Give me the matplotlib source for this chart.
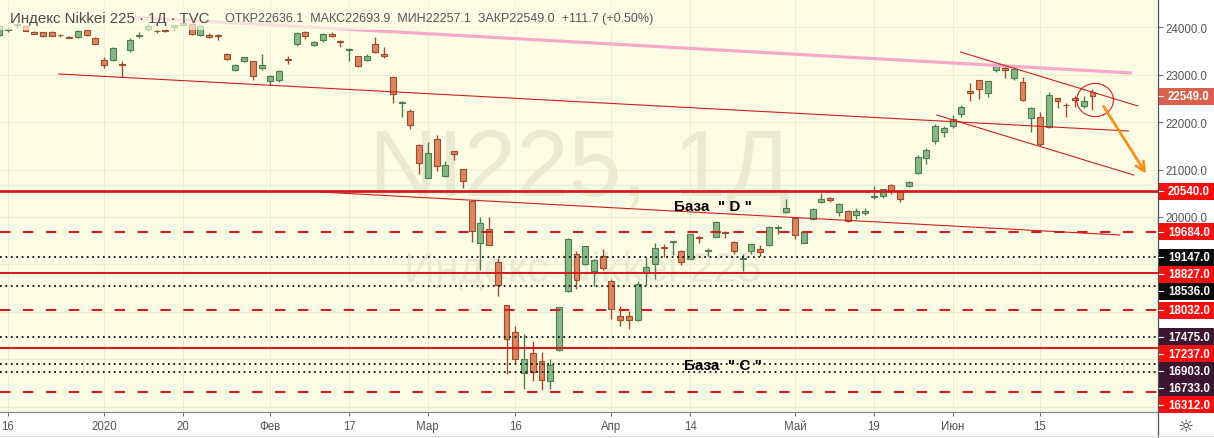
import matplotlib.pyplot as plt
from matplotlib.patches import Rectangle, Ellipse
import numpy as np
import pandas as pd

# Торговые дни Токийской биржи (без праздников)
holidays = ["2019-12-31", "2020-01-01", "2020-01-02", "2020-01-03", "2020-01-13",
            "2020-02-11", "2020-02-24", "2020-03-20", "2020-04-29",
            "2020-05-04", "2020-05-05", "2020-05-06"]
days = pd.bdate_range("2019-12-13", "2020-06-23")
days = days[~days.isin(pd.to_datetime(holidays))]

# OHLC, Nikkei 225, 1Д
opens = [23840, 23950, 24050, 24020, 23910, 23895, 23900, 23835, 23790, 23790, 23955, 23770,
         23320, 23320, 23220, 23530, 23810, 23960, 23920, 23950, 24000, 24060, 24070, 23840, 23840, 23840,
         23440, 23110, 23300, 23290, 23140,
         22860, 22880, 23340, 23640, 23895, 23630, 23740, 23870, 23700, 23520, 23390, 23320, 23660, 23430,
         22950, 22400, 22240, 21510,
         20830, 21640, 20870, 21390, 21010, 20330, 19450, 19750, 19040, 18150, 17570, 16710, 17130, 16970,
         16550, 17200, 18430, 19220, 19010, 18870, 19170,
         18660, 17920, 17920, 17835, 18840, 19010, 19360, 19470, 19290, 19115, 19585, 19290, 19585, 19680,
         19466, 19115, 19290, 19325, 19400, 19761, 20100,
         19979, 19452, 19958, 20324, 20402, 20114, 20121, 20043, 20085, 20416, 20437, 20683, 20542, 20648,
         20929, 21238, 21604, 21801,
         21913, 22173, 22651, 22890, 22609, 23108, 23143, 22926, 22841, 22082, 22117, 21892, 22504, 22363,
         22504, 22349, 22636.1]
highs = [24046, 24001, 24092, 24040, 23925, 23910, 23930, 23860, 23810, 23940, 23965, 23800,
         23365, 23590, 23300, 23770, 23900, 24080, 23950, 23970, 24050, 24115, 24100, 24050, 23880, 23860,
         23460, 23230, 23380, 23300, 23430,
         23000, 23100, 23390, 23900, 23920, 23720, 23880, 23900, 23740, 23560, 23400, 23440, 23800, 23580,
         22950, 22450, 22280, 21530,
         21580, 21720, 21190, 21400, 21020, 20350, 19990, 19990, 19130, 18150, 17700, 17530, 17390, 17150,
         17010, 18100, 19560, 19290, 19390, 19110, 19330,
         18690, 18130, 18020, 18660, 19150, 19450, 19430, 19500, 19300, 19640, 19600, 19350, 19920, 19700,
         19490, 19220, 19430, 19400, 19820, 19830, 20380,
         19990, 19680, 20180, 20500, 20420, 20290, 20150, 20180, 20180, 20660, 20600, 20700, 20560, 20760,
         21300, 21450, 21960, 21930,
         22160, 22360, 22820, 22900, 22870, 23190, 23190, 23150, 22947, 22310, 22220, 22630, 22520, 22400,
         22560, 22560, 22693.9]
lows = [23800, 23900, 23990, 23920, 23855, 23800, 23810, 23800, 23770, 23780, 23820, 23640,
        23150, 23300, 22950, 23480, 23780, 23950, 23880, 23900, 23950, 24050, 23830, 23820, 23770, 23730,
        23320, 23080, 23270, 22890, 23100,
        22780, 22850, 23220, 23600, 23750, 23600, 23700, 23800, 23580, 23300, 23160, 23300, 23460, 23360,
        22400, 22100, 21850, 20900,
        20820, 20980, 20840, 21210, 20610, 19470, 18890, 19400, 18330, 16690, 16920, 16370, 16550, 16360,
        16370, 17180, 18420, 18480, 18980, 18550, 18890,
        17850, 17700, 17630, 17800, 18560, 18700, 19150, 19190, 18990, 19110, 19450, 19180, 19580, 19560,
        19220, 18860, 19220, 19180, 19390, 19650, 20080,
        19540, 19450, 19950, 20300, 20320, 20030, 19890, 19950, 20050, 20380, 20400, 20490, 20320, 20640,
        20900, 21110, 21550, 21690,
        21870, 22100, 22454, 22490, 22540, 23050, 22926, 22880, 22450, 21787, 21500, 21880, 22290, 22100,
        22320, 22300, 22257.1]
closes = [24023, 23952, 24066, 23934, 23864, 23816, 23821, 23830, 23782, 23924, 23837, 23656,
          23204, 23575, 23204, 23739, 23850, 24025, 23916, 23933, 24041, 24083, 23864, 24031, 23795, 23827,
          23343, 23215, 23379, 22977, 23205,
          22971, 23084, 23319, 23873, 23827, 23685, 23861, 23827, 23687, 23523, 23194, 23400, 23479, 23386,
          22605, 22426, 21948, 21142,
          21344, 21082, 21100, 21329, 20749, 19698, 19867, 19416, 18559, 17431, 17002, 17011, 16726, 16552,
          16887, 18092, 19546, 18665, 19389, 19084, 18917,
          18065, 17819, 17820, 18576, 18950, 19353, 19345, 19498, 19043, 19638, 19550, 19290, 19897, 19669,
          19280, 19137, 19429, 19262, 19783, 19771, 20193,
          19619, 19674, 20179, 20390, 20366, 20267, 19914, 20135, 20133, 20433, 20595, 20552, 20388, 20741,
          21271, 21419, 21916, 21877,
          22062, 22325, 22613, 22695, 22863, 23178, 23091, 23124, 22472, 22305, 21530, 22582, 22455, 22355,
          22478, 22437, 22549.0]

# подписи шкалы времени
tick_dates = ["2019-12-16", "2020-01-06", "2020-01-20", "2020-02-03", "2020-02-17", "2020-03-02",
              "2020-03-16", "2020-04-01", "2020-04-14", "2020-05-01", "2020-05-19", "2020-06-01",
              "2020-06-15"]
tick_names = ["16", "2020", "20", "Фев", "17", "Мар", "16", "Апр", "14", "Май", "19", "Июн", "15"]

# уровни
solid_levels = [20540, 18827, 17237]
dashed_levels = [19684, 18032, 16312]
dotted_levels = [19147, 18536, 17475, 16903, 16733]
dotted_colors = ["#0b0b0b", "#0b0b0b", "#3b1531", "#3b1531", "#3b1531"]

# линии тренда: (бар, цена) -> (бар, цена)
pink_line = [(14.7, 24219), (129.5, 23038)]
trend_lines = [[(6.8, 23017), (129.1, 21814)],
               [(36.7, 20527), (128.1, 19620)],
               [(109.9, 23481), (130.2, 22342)],
               [(107.2, 22152), (129.7, 20886)]]

W, H = 1214, 439
bg = "#fdfde6"
red_line = "#d11f1f"
red_box = "#f50f0f"

fig = plt.figure(figsize=(W / 100, H / 100), dpi=100, facecolor="white")
ax = fig.add_axes([0, 26 / H, 1158 / W, 413 / H])
ax.set_facecolor(bg)
ax.set_xlim(0.085, 132.49)
ax.set_ylim(15886, 24599)

x = np.arange(len(days))
o = np.array(opens); h = np.array(highs); l = np.array(lows); c = np.array(closes)

# свечи
for xi, oi, hi, li, ci in zip(x, o, h, l, c):
    if ci >= oi:
        fc, ec = "#86b886", "#4f7d4f"
    else:
        fc, ec = "#dc8560", "#9c4d2c"
    ax.vlines(xi, li, hi, color=ec, lw=1, zorder=3)
    ax.add_patch(Rectangle((xi - 0.34, min(oi, ci)), 0.68, max(abs(ci - oi), 18),
                           facecolor=fc, edgecolor=ec, lw=0.8, zorder=4))

# сетка
tick_pos = [days.get_loc(pd.Timestamp(d)) for d in tick_dates]
for tp in tick_pos:
    ax.axvline(tp, color="#ededd4", lw=0.8, zorder=0.5)
for yv in range(16000, 25000, 1000):
    ax.axhline(yv, color="#ededd4", lw=0.8, zorder=0.5)

# водяной знак
ax.text(0.501, 0.525, "NI225, 1Д", transform=ax.transAxes, ha="center", va="baseline",
        fontsize=68, family="Liberation Sans", color="#ebebd3", zorder=0.6)
ax.text(0.503, 0.316, "Индекс Nikkei 225", transform=ax.transAxes, ha="center", va="baseline",
        fontsize=31, family="Liberation Sans", color="#ebebd3", zorder=0.6)

# горизонтальные уровни
for lv in solid_levels:
    ax.axhline(lv, color=red_line, lw=2.0 if lv == 20540 else 1.5, zorder=5)
for lv in dashed_levels:
    ax.axhline(lv, color=red_line, lw=1.5, ls=(0, (5, 6)), zorder=5)
for lv in dotted_levels:
    ax.axhline(lv, color="#111111", lw=1.3, ls=(0, (1, 2)), zorder=5)

# наклонные линии
(x0, y0), (x1, y1) = pink_line
ax.plot([x0, x1], [y0, y1], color="#f5a9c6", lw=2.3, solid_capstyle="butt", zorder=5)
for (x0, y0), (x1, y1) in trend_lines:
    ax.plot([x0, x1], [y0, y1], color=red_line, lw=0.8, zorder=5)

ax.add_patch(Ellipse((125.3, 22468), 4.2, 700, fill=False, edgecolor=red_line, lw=0.8, zorder=6))
ax.annotate("", xy=(131.3, 20865), xytext=(126.1, 22384),
            arrowprops=dict(arrowstyle="->", color="#f5901e", lw=2.0, mutation_scale=16), zorder=6)

ax.text(81.6, 20232, "База  \" D \"", ha="center", va="center", fontsize=11, fontweight="bold",
        family="Liberation Sans", color="black", zorder=7)
ax.text(82.75, 16878, "База  \" C \"", ha="center", va="center", fontsize=11, fontweight="bold",
        family="Liberation Sans", color="black", zorder=7)

# оси
ax.set_xticks(tick_pos)
ax.set_xticklabels(tick_names)
ax.yaxis.tick_right()
yt = list(range(16000, 25000, 1000))
ax.set_yticks(yt)
ax.set_yticklabels([f"{v:.1f}" if v >= 20000 else "" for v in yt])
ax.tick_params(axis="x", length=3, width=0.8, color="#777777", pad=3, labelsize=8.3,
               labelcolor="#555555")
ax.tick_params(axis="y", length=3.5, width=0.8, color="#777777", pad=2, labelsize=8.3,
               labelcolor="#555555")
for lab in ax.get_xticklabels() + ax.get_yticklabels():
    lab.set_family("Liberation Sans")
for s in ["top", "left"]:
    ax.spines[s].set_visible(False)
ax.spines["right"].set_color("#555555")
ax.spines["right"].set_linewidth(0.9)
ax.spines["bottom"].set_color("#888888")
ax.spines["bottom"].set_linewidth(0.9)

# метки цен на шкале (складываются сверху вниз)
labels = [(closes[-1], "#d9604c")] + \
         [(lv, red_box) for lv in solid_levels + dashed_levels] + \
         list(zip(dotted_levels, dotted_colors))
labels.sort(key=lambda t: -t[0])
ymin, ymax = ax.get_ylim()
prev = -100
for price, col in labels:
    yc = (ymax - price) / (ymax - ymin) * 413
    yc = max(yc, prev + 17)
    prev = yc
    fig.patches.append(Rectangle((1159 / W, (H - yc - 8.5) / H), 55 / W, 17 / H,
                                 transform=fig.transFigure, facecolor=col, edgecolor="none",
                                 zorder=5))
    fig.lines.append(plt.Line2D([1159 / W, 1163 / W], [(H - yc) / H] * 2, transform=fig.transFigure,
                                color="white", lw=0.8, zorder=6))
    fig.text(1189 / W, (H - yc) / H, f"{price:.1f}", ha="center", va="center", fontsize=8.3,
             fontweight="bold", family="Liberation Sans", color="white", zorder=7)

# шапка
ax.add_patch(Rectangle((0, 0.925), 0.56, 0.065, transform=ax.transAxes, facecolor=bg,
                       edgecolor="none", alpha=0.65, zorder=8))
fig.text(10 / W, (H - 19) / H, "Индекс Nikkei 225 · 1Д · TVC", ha="left", va="center",
         fontsize=10.8, family="Liberation Sans", color="#4d4d4d", zorder=9)
fig.text(225 / W, (H - 19) / H,
         "ОТКР22636.1  МАКС22693.9  МИН22257.1  ЗАКР22549.0  +111.7 (+0.50%)",
         ha="left", va="center", fontsize=9, family="Liberation Sans", color="#555555", zorder=9)

# нижний правый угол
fig.lines.append(plt.Line2D([1158 / W, 1158 / W], [0, 26 / H], transform=fig.transFigure,
                            color="#555555", lw=0.9))
fig.lines.append(plt.Line2D([0, 1], [2 / H, 2 / H], transform=fig.transFigure,
                            color="#dddddd", lw=0.9))
fig.text(1186 / W, 12 / H, "☼", ha="center", va="center", fontsize=13, color="#333333")

fig.savefig("out.png", dpi=100, facecolor="white")
